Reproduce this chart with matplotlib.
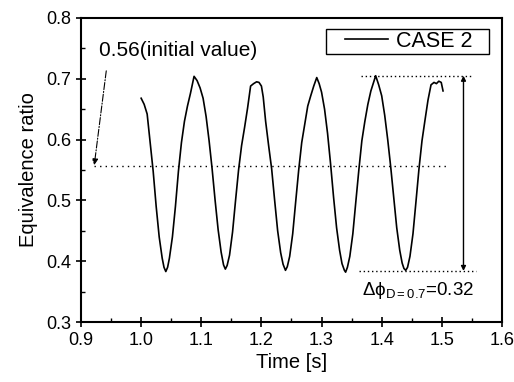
import numpy as np
import matplotlib.pyplot as plt
from matplotlib.ticker import MultipleLocator
from matplotlib.patches import Rectangle

plt.rcParams['font.family'] = ['Liberation Sans', 'DejaVu Sans']
plt.rcParams['mathtext.fontset'] = 'custom'
plt.rcParams['mathtext.rm'] = 'Liberation Sans'
plt.rcParams['mathtext.it'] = 'Liberation Sans:italic'

# equivalence ratio trace
time = [1.000, 1.005, 1.010, 1.015, 1.020, 1.025, 1.030, 1.035, 1.038, 1.041,
        1.044, 1.047, 1.052, 1.057, 1.062, 1.067, 1.072, 1.077, 1.082, 1.088,
        1.093, 1.098, 1.103, 1.108, 1.113, 1.118, 1.123, 1.128, 1.133, 1.137,
        1.140, 1.143, 1.147, 1.152, 1.157, 1.162, 1.167, 1.172, 1.177, 1.182,
        1.187, 1.192, 1.196, 1.200, 1.203, 1.207, 1.212, 1.217, 1.222, 1.227,
        1.232, 1.236, 1.240, 1.243, 1.247, 1.252, 1.257, 1.262, 1.267, 1.272,
        1.277, 1.282, 1.287, 1.292, 1.296, 1.300, 1.305, 1.310, 1.315, 1.320,
        1.325, 1.330, 1.334, 1.338, 1.340, 1.343, 1.347, 1.352, 1.357, 1.362,
        1.367, 1.372, 1.377, 1.382, 1.390, 1.395, 1.400, 1.405, 1.410, 1.415,
        1.420, 1.425, 1.430, 1.434, 1.437, 1.440, 1.443, 1.447, 1.452, 1.457,
        1.462, 1.467, 1.472, 1.477, 1.482, 1.487, 1.491, 1.495, 1.499, 1.502]
phi = [0.668, 0.658, 0.642, 0.595, 0.548, 0.490, 0.440, 0.405, 0.390, 0.383,
       0.390, 0.405, 0.440, 0.490, 0.548, 0.595, 0.630, 0.655, 0.676, 0.704,
       0.697, 0.685, 0.668, 0.638, 0.598, 0.552, 0.500, 0.452, 0.415, 0.394,
       0.387, 0.393, 0.410, 0.448, 0.500, 0.550, 0.590, 0.620, 0.652, 0.688,
       0.692, 0.695, 0.694, 0.688, 0.670, 0.630, 0.590, 0.552, 0.500, 0.450,
       0.414, 0.395, 0.385, 0.391, 0.408, 0.445, 0.498, 0.550, 0.595, 0.625,
       0.655, 0.672, 0.688, 0.702, 0.692, 0.678, 0.650, 0.610, 0.560, 0.505,
       0.455, 0.418, 0.396, 0.385, 0.382, 0.390, 0.408, 0.445, 0.498, 0.550,
       0.598, 0.630, 0.658, 0.680, 0.705, 0.690, 0.672, 0.640, 0.600, 0.555,
       0.505, 0.455, 0.418, 0.397, 0.388, 0.385, 0.390, 0.408, 0.445, 0.498,
       0.552, 0.598, 0.632, 0.665, 0.690, 0.694, 0.692, 0.696, 0.694, 0.680]

initial_value = 0.556
phi_max = 0.705
phi_min = 0.384

fig = plt.figure(figsize=(5.14, 3.82), dpi=100)
ax = fig.add_axes([0.1576, 0.157, 0.819, 0.796])

ax.plot(time, phi, color='black', lw=1.2, label='CASE 2')

# reference lines
ax.plot([0.922, 1.509], [initial_value, initial_value], color='black', lw=1, ls=(0, (1, 3)))
ax.plot([1.366, 1.552], [phi_max, phi_max], color='black', lw=1, ls=(0, (1, 2)))
ax.plot([1.363, 1.556], [phi_min, phi_min], color='black', lw=1, ls=(0, (1, 2)))
ax.annotate('', xy=(1.536, phi_max), xytext=(1.536, phi_min),
            arrowprops=dict(arrowstyle='<|-|>', color='black', lw=1,
                            mutation_scale=7, shrinkA=0, shrinkB=0))
ax.annotate('', xy=(0.922, initial_value + 0.002), xytext=(0.942, 0.713),
            arrowprops=dict(arrowstyle='-|>', color='black', lw=0.8, ls='-.',
                            mutation_scale=9, shrinkA=0, shrinkB=0))

ax.text(0.930, 0.747, '0.56(initial value)', fontsize=15, va='center', ha='left')
ax.text(1.367, 0.352, r'$\mathrm{\Delta\phi_{D=0.7}}$=0.32', fontsize=13.5,
        va='center', ha='left')

ax.set_xlim(0.9, 1.6)
ax.set_ylim(0.3, 0.8)
ax.xaxis.set_major_locator(MultipleLocator(0.1))
ax.xaxis.set_minor_locator(MultipleLocator(0.05))
ax.yaxis.set_major_locator(MultipleLocator(0.1))
ax.yaxis.set_minor_locator(MultipleLocator(0.05))
ax.tick_params(which='major', direction='inout', length=7, width=1.2, labelsize=13)
ax.tick_params(which='minor', direction='in', length=3, width=1)
for s in ax.spines.values():
    s.set_linewidth(1.5)

ax.set_xlabel('Time [s]', fontsize=14.5, labelpad=3)
ax.set_ylabel('Equivalence ratio', fontsize=14.5, labelpad=6)

# legend box
ax.add_patch(Rectangle((0.582, 0.882), 0.387, 0.082, transform=ax.transAxes,
                       fill=False, edgecolor='black', lw=1, zorder=5))
ax.legend(loc='center', bbox_to_anchor=(0.779, 0.923), fontsize=15.5,
          frameon=False, handlelength=2.0, borderpad=0, handletextpad=0.35)

fig.savefig('out.png', dpi=100)
